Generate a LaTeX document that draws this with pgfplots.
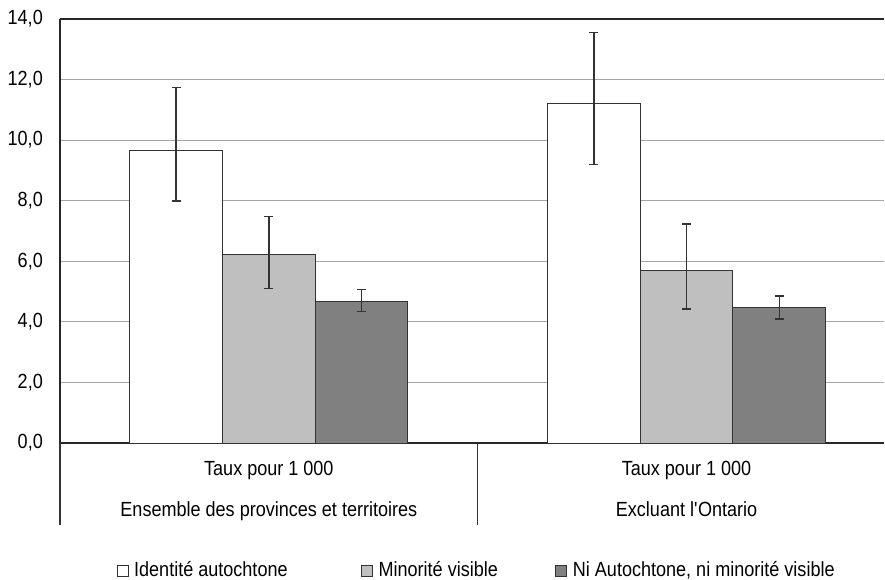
\documentclass[border=0pt]{standalone}
\usepackage{fontspec}
\setmainfont{Liberation Sans}[FakeStretch=0.88]
\usepackage{pgfplots}
\pgfplotsset{compat=1.18}
\usepackage{pgfplotstable}

% x = group centre (0, 1) plus bar offset
\pgfplotstableread{
x y ep em
-0.2219 9.67 2.06 1.68
0.7781 11.20 2.36 2.01
}\tabA
\pgfplotstableread{
x y ep em
0 6.22 1.25 1.11
1 5.69 1.54 1.26
}\tabB
\pgfplotstableread{
x y ep em
0.2219 4.68 0.38 0.33
1.2219 4.49 0.37 0.39
}\tabC

\definecolor{barline}{HTML}{333333}
\definecolor{gridc}{HTML}{A6A6A6}
\definecolor{lgray}{HTML}{BFBFBF}
\definecolor{dgray}{HTML}{808080}

\pgfplotsset{
  myerr/.style={error bars/.cd, y dir=both, y explicit, error mark=-,
    error bar style={line width=1.4bp, color=barline, solid},
    error mark options={rotate=90, mark size=4.5bp, line width=1.4bp, color=barline}},
}

\begin{document}
\fontsize{20.5bp}{24bp}\selectfont
\begin{tikzpicture}
\begin{axis}[
  name=ax,
  scale only axis,
  width=824bp, height=424bp,
  xmin=-0.5, xmax=1.4727,
  ymin=0, ymax=14,
  ytick={0,2,...,14},
  xtick=\empty,
  axis y line*=left,
  axis line style={-, line width=1.1bp, color=black!85},
  ymajorgrids,
  grid style={color=gridc, line width=1.2bp},
  major tick length=0pt,
  clip=false,
  /pgf/number format/.cd, fixed, fixed zerofill, precision=1, use comma, assume math mode=true,
  /pgfplots/.cd,
  yticklabel style={anchor=east, inner sep=0pt, xshift=-17bp},
  legend image code/.code={\draw[#1, line width=1bp] (0bp,-5.5bp) rectangle (11bp,5.5bp); \path (13bp,0bp);},
  legend columns=3,
  legend style={draw=none, fill=none, at={(rel axis cs:0.0649,-0.301)}, anchor=west,
    nodes={inner xsep=3.5bp, inner ysep=1bp},
    /tikz/column 2/.style={column sep=70bp},
    /tikz/column 4/.style={column sep=54bp}},
]
\addplot[ybar, bar width=92.7bp, bar shift=0bp, fill=white, draw=barline, line width=1bp, myerr]
  table[x=x, y=y, y error plus=ep, y error minus=em]{\tabA};
\addlegendentry{Identité autochtone}
\addplot[ybar, bar width=92.7bp, bar shift=0bp, fill=lgray, draw=barline, line width=1bp, myerr]
  table[x=x, y=y, y error plus=ep, y error minus=em]{\tabB};
\addlegendentry{Minorité visible}
\addplot[ybar, bar width=92.7bp, bar shift=0bp, fill=dgray, draw=barline, line width=1bp, myerr]
  table[x=x, y=y, y error plus=ep, y error minus=em]{\tabC};
\addlegendentry{Ni Autochtone, ni minorité visible}

\draw[line width=1.2bp, color=barline] (axis cs:-0.5,0) -- ([yshift=-82bp]axis cs:-0.5,0);
\draw[line width=1.2bp, color=barline] (axis cs:0.5,0) -- ([yshift=-82bp]axis cs:0.5,0);
\node[anchor=base, inner sep=0pt] at ([yshift=-32.7bp]axis cs:0,0) {Taux pour 1 000};
\node[anchor=base, inner sep=0pt] at ([yshift=-73.7bp]axis cs:0,0) {Ensemble des provinces et territoires};
\node[anchor=base, inner sep=0pt] at ([yshift=-32.7bp]axis cs:1,0) {Taux pour 1 000};
\node[anchor=base, inner sep=0pt] at ([yshift=-73.7bp]axis cs:1,0) {Excluant l\textquotesingle Ontario};
\end{axis}
\pgfresetboundingbox
\useasboundingbox ([shift={(-60bp,-137bp)}]ax.south west) rectangle ([shift={(825bp,443bp)}]ax.south west);
\end{tikzpicture}
\end{document}
